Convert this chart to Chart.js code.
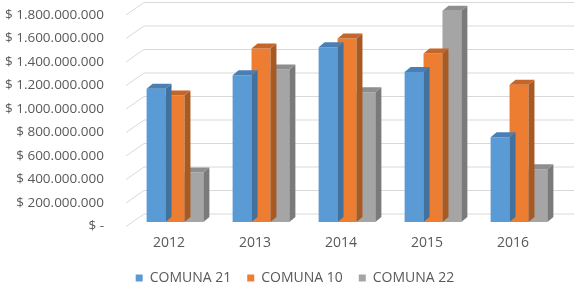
<!DOCTYPE html>
<html>
<head>
<meta charset="utf-8">
<script src="https://cdn.jsdelivr.net/npm/chart.js@4"></script>
<style>
  html, body { margin: 0; padding: 0; background: #fff; }
  #wrap { width: 583px; height: 293px; }
</style>
</head>
<body>
<div id="wrap"><canvas id="chart"></canvas></div>
<script>
// values, in pesos
const years    = ["2012", "2013", "2014", "2015", "2016"];
const comuna21 = [1135000000, 1248000000, 1487000000, 1276000000, 721000000];
const comuna10 = [1077000000, 1476000000, 1562000000, 1433000000, 1168000000];
const comuna22 = [421000000, 1297000000, 1105000000, 1797000000, 450000000];
const yTicks   = [0, 200000000, 400000000, 600000000, 800000000, 1000000000,
                  1200000000, 1400000000, 1600000000, 1800000000];

const TEXT = "#595959";
const FONT = "'Open Sans', 'Liberation Sans', sans-serif";

// fake 3D: offsets relative to the bar plane (chart area)
const barDepth = { dx: 6, dy: -5 };
const wallOff  = { dx: 12, dy: -8 };
const frontOff = { dx: -6, dy: 4.5 };

function money(v) {
  if (v === 0) return "$ -";
  return "$ " + String(v).replace(/\B(?=(\d{3})+(?!\d))/g, ".");
}

const walls = {
  id: "walls",
  beforeDatasetsDraw(c) {
    const { ctx, chartArea: a, scales: { y } } = c;
    ctx.save();
    ctx.strokeStyle = "#d9d9d9";
    ctx.lineWidth = 1;
    yTicks.forEach(v => {
      const py = y.getPixelForValue(v);
      ctx.beginPath();
      ctx.moveTo(a.left + frontOff.dx, py + frontOff.dy);
      ctx.lineTo(a.left + wallOff.dx, py + wallOff.dy);
      ctx.lineTo(a.right + wallOff.dx, py + wallOff.dy);
      ctx.stroke();
    });
    ctx.restore();
  },
  afterDatasetDraw(c, args) {
    const ds = c.data.datasets[args.index];
    const { ctx } = c;
    const { dx, dy } = barDepth;
    ctx.save();
    args.meta.data.forEach(bar => {
      const l = bar.x - bar.width / 2, r = bar.x + bar.width / 2;
      ctx.fillStyle = ds.sideColor;
      ctx.beginPath();
      ctx.moveTo(r, bar.y); ctx.lineTo(r + dx, bar.y + dy);
      ctx.lineTo(r + dx, bar.base + dy); ctx.lineTo(r, bar.base);
      ctx.closePath(); ctx.fill();
      ctx.fillStyle = ds.topColor;
      ctx.beginPath();
      ctx.moveTo(l, bar.y); ctx.lineTo(l + dx, bar.y + dy);
      ctx.lineTo(r + dx, bar.y + dy); ctx.lineTo(r, bar.y);
      ctx.closePath(); ctx.fill();
    });
    ctx.restore();
  }
};

new Chart(document.getElementById("chart"), {
  type: "bar",
  data: {
    labels: years,
    datasets: [
      { label: "COMUNA 21", data: comuna21, backgroundColor: "#5b9bd5", topColor: "#4a7fb5", sideColor: "#41719c" },
      { label: "COMUNA 10", data: comuna10, backgroundColor: "#ed7d31", topColor: "#c4652a", sideColor: "#a95a22" },
      { label: "COMUNA 22", data: comuna22, backgroundColor: "#a5a5a5", topColor: "#8e8e8e", sideColor: "#7a7a7a" }
    ].map(d => ({ ...d, borderWidth: 0, clip: false, barPercentage: 1, categoryPercentage: 0.66 }))
  },
  options: {
    responsive: true, maintainAspectRatio: false, animation: false,
    // negative right padding centres the legend under the plot like Excel does;
    // the x axis padding below keeps the plot's right edge where it should be
    layout: { padding: { left: 0, right: -7, top: 10.5, bottom: -2 } },
    plugins: {
      tooltip: { enabled: false },
      legend: {
        position: "bottom",
        labels: { color: TEXT, font: { family: FONT, size: 14 }, boxWidth: 7, boxHeight: 7, padding: 16 }
      }
    },
    scales: {
      x: {
        grid: { display: false }, border: { display: false },
        ticks: { color: TEXT, font: { family: FONT, size: 14 }, padding: 5, labelOffset: -6 },
        afterFit: s => { s.height = 33; s.paddingLeft = 0; s.paddingRight = 21; }
      },
      y: {
        min: 0, max: 1800000000,
        grid: { display: false }, border: { display: false },
        afterBuildTicks: s => { s.ticks = yTicks.map(v => ({ value: v })); },
        afterFit: s => { s.width = 132; s.paddingTop = 0; s.paddingBottom = 0; },
        ticks: { color: TEXT, font: { family: FONT, size: 13.5 }, padding: 20, labelOffset: 4.5, callback: money }
      }
    }
  },
  plugins: [walls]
});
</script>
</body>
</html>
